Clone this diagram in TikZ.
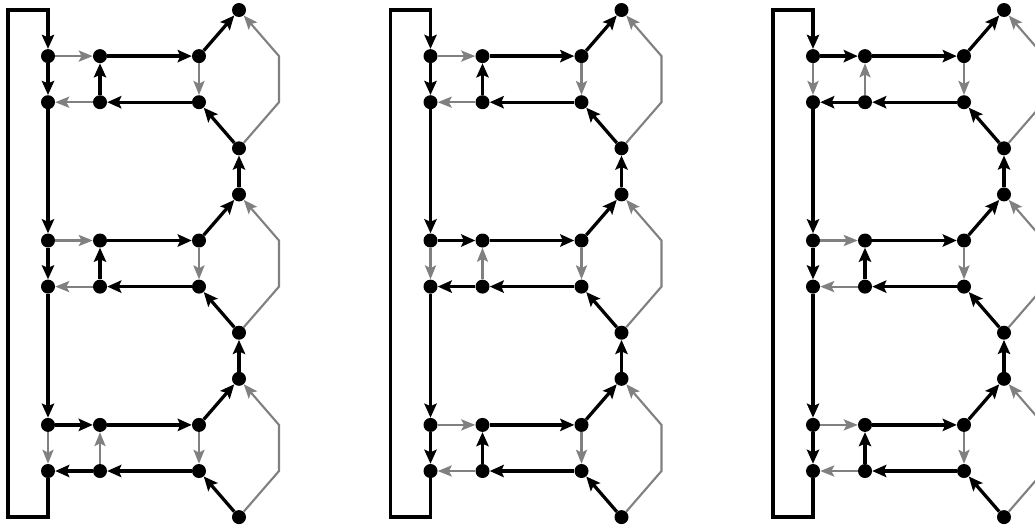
\documentclass[tikz,border=0pt]{standalone}
\usetikzlibrary{arrows.meta}

\begin{document}
\begin{tikzpicture}[
    x=0.03cm, y=-0.03cm,
    dot/.style={
        circle,
        fill=black,
        inner sep=0pt,
        minimum size=0.42cm
    },
    blk/.style={
        draw=black,
        line width=2.8pt,
        -{Stealth[length=12pt,width=10.5pt,inset=2.2pt]}
    },
    gry/.style={
        draw=black!50,
        line width=1.8pt,
        -{Stealth[length=12pt,width=9.5pt,inset=2.5pt]}
    }
]
\useasboundingbox (0,0) rectangle (1035,527);

\foreach \p/\sw in {0/3,1/2,2/1} {
    \pgfmathsetmacro\ox{382.5*\p}
    \foreach \g in {1,2,3} {
        \pgfmathsetmacro\oy{10+184.4*(\g-1)}
        \node[dot] (t-\p-\g)  at (\ox+239,\oy) {};
        \node[dot] (la-\p-\g) at (\ox+48,\oy+46.1) {};
        \node[dot] (ma-\p-\g) at (\ox+100,\oy+46.1) {};
        \node[dot] (ra-\p-\g) at (\ox+199,\oy+46.1) {};
        \node[dot] (lb-\p-\g) at (\ox+48,\oy+92.2) {};
        \node[dot] (mb-\p-\g) at (\ox+100,\oy+92.2) {};
        \node[dot] (rb-\p-\g) at (\ox+199,\oy+92.2) {};
        \node[dot] (b-\p-\g)  at (\ox+239,\oy+138.3) {};

        \draw[blk] (ma-\p-\g) -- (ra-\p-\g);
        \draw[blk] (ra-\p-\g) -- (t-\p-\g);
        \draw[gry] (ra-\p-\g) -- (rb-\p-\g);
        \draw[blk] (rb-\p-\g) -- (mb-\p-\g);
        \draw[blk] (b-\p-\g) -- (rb-\p-\g);
        \draw[gry] (b-\p-\g) -- ++(40,-46.1) -- ++(0,-46.1) -- (t-\p-\g);
        \ifnum\g=\sw
            \draw[gry] (la-\p-\g) -- (lb-\p-\g);
            \draw[blk] (la-\p-\g) -- (ma-\p-\g);
            \draw[gry] (mb-\p-\g) -- (ma-\p-\g);
            \draw[blk] (mb-\p-\g) -- (lb-\p-\g);
        \else
            \draw[blk] (la-\p-\g) -- (lb-\p-\g);
            \draw[gry] (la-\p-\g) -- (ma-\p-\g);
            \draw[blk] (mb-\p-\g) -- (ma-\p-\g);
            \draw[gry] (mb-\p-\g) -- (lb-\p-\g);
        \fi
    }
    \foreach \g/\gn in {1/2,2/3} {
        \draw[blk] (lb-\p-\g) -- (la-\p-\gn);
        \draw[blk] (t-\p-\gn) -- (b-\p-\g);
    }
    \coordinate (bt-\p) at (\ox+48,10);
    \coordinate (bb-\p) at (\ox+48,517);
    \draw[blk] (lb-\p-3) -- (bb-\p) -- ++(-40,0) -- ++(0,-507) -- (bt-\p) -- (la-\p-1);
}

\end{tikzpicture}
\end{document}
